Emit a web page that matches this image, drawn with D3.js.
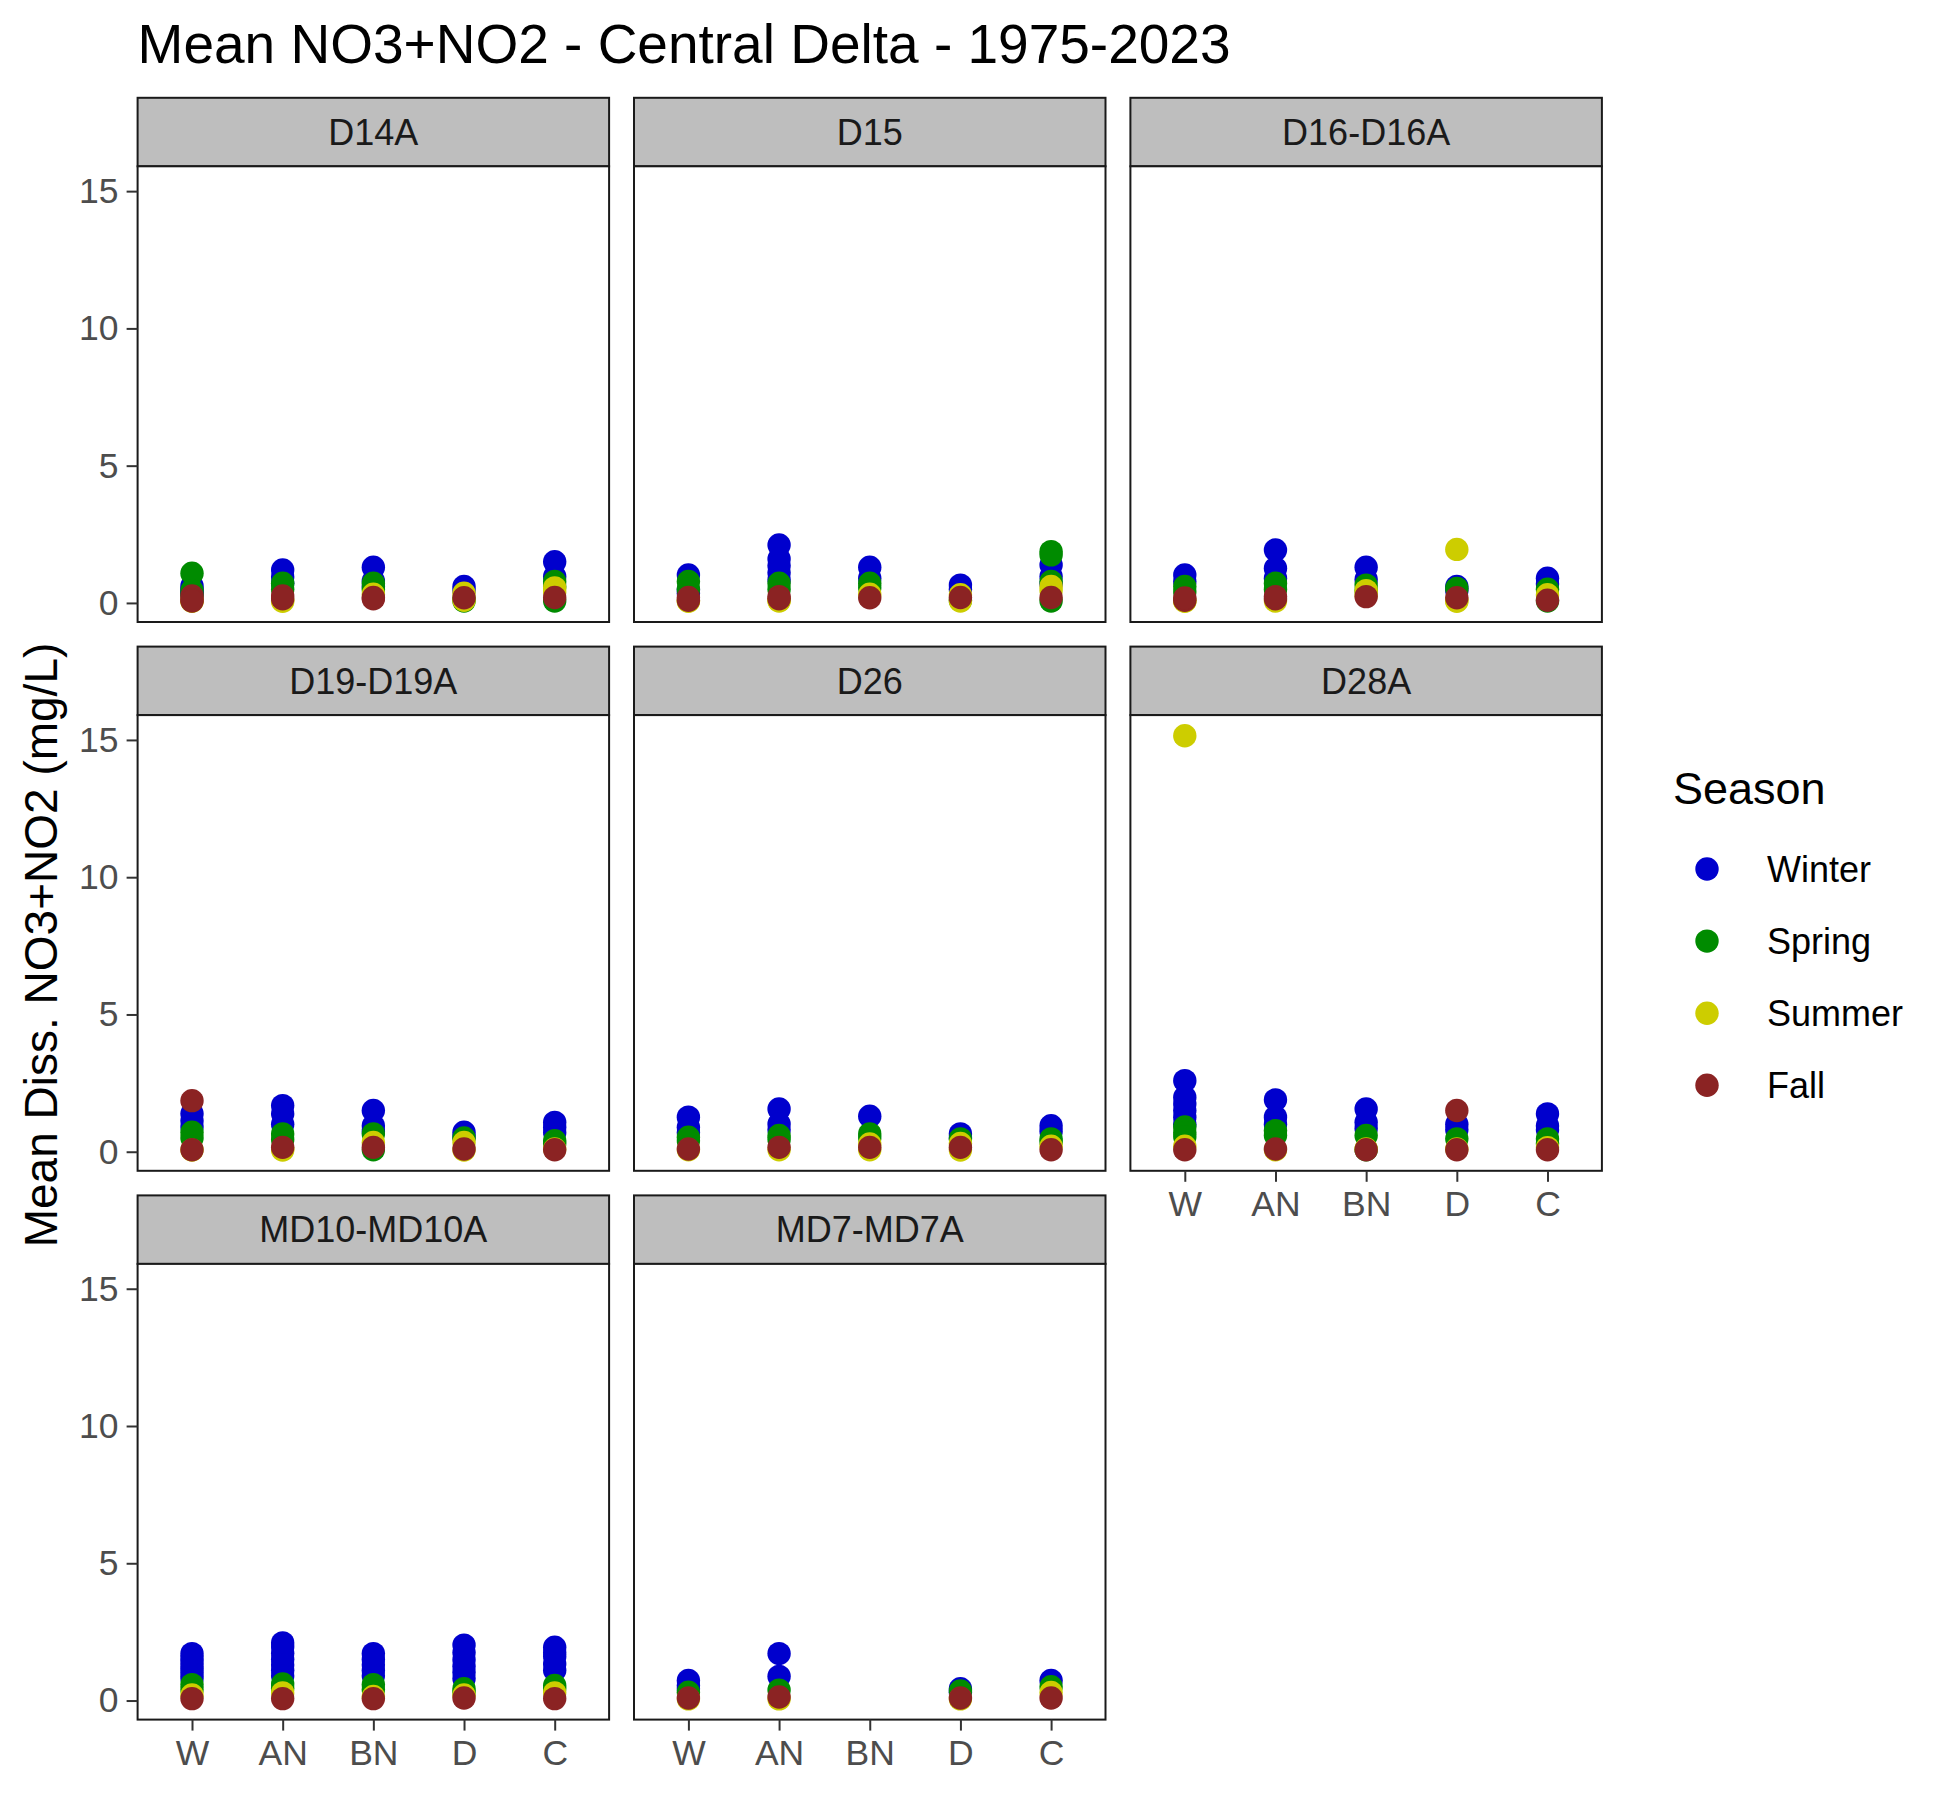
<!DOCTYPE html>
<html>
<head>
<meta charset="utf-8">
<script src="https://cdn.jsdelivr.net/npm/d3@7"></script>
<style>
  html, body { margin: 0; padding: 0; background: #fff; }
  svg { display: block; font-family: "Liberation Sans", Arial, sans-serif; }
</style>
</head>
<body>
<svg id="chart" width="1950" height="1800"></svg>
<script>
/* stations (facets), water year types (x axis) and seasons (colour) */
const stations = ['D14A', 'D15', 'D16-D16A', 'D19-D19A', 'D26', 'D28A', 'MD10-MD10A', 'MD7-MD7A'];
const yearTypes = ['W', 'AN', 'BN', 'D', 'C'];
const seasons = ['Winter', 'Spring', 'Summer', 'Fall'];
const seasonColors = ['#0000CD', '#008B00', '#CDCD00', '#8B2323'];
const yTicks = [0, 5, 10, 15];

/* mean NO3+NO2 (mg/L), one array per station, one list per year type (W, AN, BN, D, C) */
const winter = [
  [[0.62, 0.5, 0.41, 0.33], [1.2, 0.95, 0.72], [1.3, 0.8, 0.6], [0.6, 0.45], [1.5, 0.96]],
  [[1.02, 0.47, 0.35], [2.11, 1.6, 1.35, 1.1, 0.85], [1.3, 0.9], [0.65, 0.5], [1.38, 0.96, 0.7]],
  [[1.02, 0.78], [1.93, 1.26, 0.9], [1.3, 0.85], [0.6, 0.45], [0.9, 0.7]],
  [[1.38, 1.13, 0.9], [1.68, 1.38, 1.0], [1.5, 0.95, 0.75], [0.71, 0.55], [1.07, 0.89, 0.7]],
  [[1.26, 0.89, 0.7], [1.56, 1.01, 0.8], [1.29], [0.65, 0.5], [0.95, 0.75]],
  [[2.59, 1.98, 1.74, 1.5, 1.26, 1.0], [1.89, 1.26, 1.0], [1.56, 1.07, 0.85], [1.0, 0.8], [1.38, 0.95, 0.8]],
  [[1.71, 1.55, 1.4, 1.25, 1.1, 0.95, 0.8], [2.1, 1.95, 1.72, 1.5, 1.3, 1.1, 0.9], [1.71, 1.5, 1.3, 1.1, 0.9],
   [2.02, 1.75, 1.49, 1.25, 1.03, 0.8], [1.94, 1.75, 1.6, 1.33, 1.1]],
  [[0.73, 0.55, 0.43], [1.71, 0.88], [], [0.43, 0.3], [0.73]]
];
const spring = [
  [[1.08, 0.45, 0.28], [0.72, 0.5], [0.72, 0.5], [0.07, 0.15], [0.78, 0.6, 0.07]],
  [[0.78, 0.5], [0.72, 0.5], [0.72, 0.55], [0.1], [1.87, 1.75, 0.78, 0.07]],
  [[0.6, 0.4], [0.72, 0.5], [0.65, 0.45], [0.53], [0.5, 0.07]],
  [[0.71, 0.5], [0.65, 0.45], [0.65, 0.07], [0.5], [0.4, 0.3]],
  [[0.53, 0.4], [0.59, 0.45], [0.65, 0.5], [0.47], [0.47, 0.35]],
  [[0.9, 0.7, 0.55], [0.77, 0.6], [0.59, 0.07], [0.47], [0.47, 0.3]],
  [[0.58, 0.4], [0.6, 0.45], [0.58, 0.4], [0.43, 0.3], [0.55, 0.43]],
  [[0.3], [0.38], [], [0.35], [0.5]]
];
const summer = [
  [[0.08, 0.06], [0.1, 0.06], [0.32], [0.35, 0.1], [0.55, 0.4]],
  [[0.06, 0.08], [0.07, 0.1], [0.32], [0.07, 0.3], [0.6, 0.45]],
  [[0.06, 0.08], [0.07], [0.45, 0.3], [1.95, 0.06, 0.1], [0.3]],
  [[0.06], [0.06, 0.1], [0.34], [0.34, 0.06], [0.1]],
  [[0.07], [0.07], [0.28, 0.07], [0.3, 0.06], [0.2]],
  [[15.15, 0.2], [0.07], [0.1], [0.1], [0.15]],
  [[0.2], [0.28], [0.15], [0.2], [0.28]],
  [[0.06], [0.06], [], [0.06], [0.29]]
];
const fall = [
  [[0.25, 0.12, 0.07], [0.25, 0.15], [0.2, 0.15], [0.19], [0.2]],
  [[0.1, 0.2], [0.23, 0.15], [0.19], [0.2], [0.2]],
  [[0.1, 0.18], [0.23, 0.15], [0.23], [0.19], [0.1]],
  [[1.86, 0.07], [0.16], [0.16], [0.1], [0.07]],
  [[0.1], [0.16], [0.16], [0.16], [0.07]],
  [[0.07], [0.1], [0.07], [1.5, 0.07], [0.07]],
  [[0.07], [0.07], [0.07], [0.09], [0.07]],
  [[0.09], [0.13], [], [0.09], [0.09]]
];
const seasonValues = [winter, spring, summer, fall];

/* layout of the facet grid */
const colX = [137.6, 634, 1130.4];
const rowY = [97.8, 646.6, 1195.4];
const panelW = 471.5;
const stripH = 68.5;
const panelH = 455.7;
const nCols = 3;

/* flatten into points, drawn season by season */
let points = [];
seasonValues.forEach(function(byStation, si){
  byStation.forEach(function(byType, st){
    byType.forEach(function(vals, ti){
      vals.forEach(function(v){
        points.push({station: st, type: yearTypes[ti], season: si, value: v});
      });
    });
  });
});

/* shared scales (fixed facets), with ggplot's 5% / 0.6 expansion */
let ext = d3.extent(points, function(d){ return d.value; });
let pad = (ext[1] - ext[0]) * 0.05;
let y = d3.scaleLinear()
  .domain([ext[0] - pad, ext[1] + pad])
  .range([panelH, 0]);
let x = d3.scalePoint()
  .domain(yearTypes)
  .range([0, panelW])
  .padding(0.6);

let svg = d3.select('#chart');

/* title */
svg.append('text')
  .attr('x', 137.6)
  .attr('y', 63)
  .attr('font-size', 55)
  .attr('fill', '#000')
  .text('Mean NO3+NO2 - Central Delta - 1975-2023');

/* y axis title */
svg.append('text')
  .attr('transform', 'translate(56.5,945) rotate(-90)')
  .attr('text-anchor', 'middle')
  .attr('font-size', 46)
  .attr('fill', '#000')
  .text('Mean Diss. NO3+NO2 (mg/L)');

stations.forEach(function(name, i){
  let col = i % nCols;
  let row = Math.floor(i / nCols);
  let left = colX[col];
  let top = rowY[row] + stripH;

  /* strip */
  let strip = svg.append('g')
    .attr('transform', 'translate(' + left + ',' + rowY[row] + ')');
  strip.append('rect')
    .attr('width', panelW)
    .attr('height', stripH)
    .attr('fill', '#BEBEBE')
    .attr('stroke', '#1a1a1a')
    .attr('stroke-width', 2);
  strip.append('text')
    .attr('x', panelW / 2)
    .attr('y', stripH / 2 + 12.8)
    .attr('text-anchor', 'middle')
    .attr('font-size', 36)
    .attr('fill', '#1A1A1A')
    .text(name);

  let panel = svg.append('g')
    .attr('transform', 'translate(' + left + ',' + top + ')');

  panel.append('rect')
    .attr('width', panelW)
    .attr('height', panelH)
    .attr('fill', '#fff');

  /* points */
  panel.append('g')
    .selectAll('circle')
    .data(points.filter(function(d){ return d.station === i; }))
    .enter().append('circle')
      .attr('cx', function(d){ return x(d.type); })
      .attr('cy', function(d){ return y(d.value); })
      .attr('r', 11.7)
      .attr('fill', function(d){ return seasonColors[d.season]; });

  panel.append('rect')
    .attr('width', panelW)
    .attr('height', panelH)
    .attr('fill', 'none')
    .attr('stroke', '#1a1a1a')
    .attr('stroke-width', 2);

  /* left axis on first column */
  if( col === 0 ){
    let ya = panel.append('g')
      .call(d3.axisLeft(y).tickValues(yTicks).tickSize(11).tickPadding(8));
    ya.select('.domain').remove();
    ya.selectAll('line').attr('stroke', '#333333').attr('stroke-width', 2);
    ya.selectAll('text')
      .attr('font-size', 35.5)
      .attr('font-family', '"Liberation Sans", Arial, sans-serif')
      .attr('fill', '#4D4D4D');
  }

  /* bottom axis where nothing sits below */
  if( i + nCols >= stations.length ){
    let xa = panel.append('g')
      .attr('transform', 'translate(0,' + panelH + ')')
      .call(d3.axisBottom(x).tickSize(11).tickPadding(9));
    xa.select('.domain').remove();
    xa.selectAll('line').attr('stroke', '#333333').attr('stroke-width', 2);
    xa.selectAll('text')
      .attr('font-size', 35.5)
      .attr('font-family', '"Liberation Sans", Arial, sans-serif')
      .attr('fill', '#4D4D4D');
  }
});

/* legend */
let legend = svg.append('g');
legend.append('text')
  .attr('x', 1673)
  .attr('y', 804)
  .attr('font-size', 45)
  .attr('fill', '#000')
  .text('Season');
let keys = legend.selectAll('g.key')
  .data(seasons)
  .enter().append('g')
    .attr('class', 'key')
    .attr('transform', function(d, k){ return 'translate(0,' + (869 + k * 72.1) + ')'; });
keys.append('circle')
  .attr('cx', 1707)
  .attr('cy', 0)
  .attr('r', 11.7)
  .attr('fill', function(d, k){ return seasonColors[k]; });
keys.append('text')
  .attr('x', 1767)
  .attr('y', 12.8)
  .attr('font-size', 36)
  .attr('fill', '#000')
  .text(function(d){ return d; });
</script>
</body>
</html>
